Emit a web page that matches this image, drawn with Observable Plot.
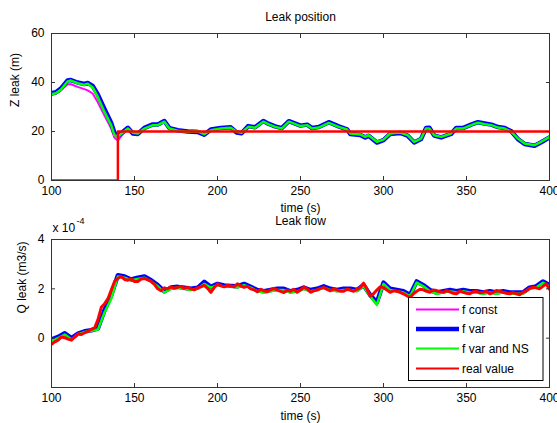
<!DOCTYPE html>
<html>
<head>
<meta charset="utf-8">
<script src="https://cdn.jsdelivr.net/npm/d3@7"></script>
<script src="https://cdn.jsdelivr.net/npm/@observablehq/plot@0.6"></script>
<style>
  body { margin: 0; background: #fff; }
  #wrap { position: relative; width: 557px; height: 423px; font-family: "Liberation Sans", Arial, sans-serif; }
  #wrap svg { display: block; }
  #legend { position: absolute; left: 0; top: 0; }
</style>
</head>
<body>
<div id="wrap"></div>
<script>
// ---------- Data ----------
// Leak position (Z leak, m)
const zTime = [100,102.6,105.6,109.7,111.7,115.7,119.8,121.8,124.8,127.8,131.9,135.9,137.9,139.9,142.9,146,149,152,156,161,164,168,171,176,182,188,192,196,202,208,211.5,214.5,218.5,222.6,227.6,230.6,234.7,238.7,243,250,254,257,261,267,273,278,280,286,289,291,296,300,304,310,314.5,318.5,322.6,325.6,327.6,330.6,334.7,340.7,343.8,347.8,352.8,356.9,361,365,369,373,377,381,385,391,395,400];
const zConst = [35.0,35.3,36.7,39.3,39.3,38.2,37.3,36.8,35.5,32,26.5,21.3,17.5,16.3,18.8,21.0,19.6,19.3,21.2,22.5,22.6,23.9,21.1,20.6,20.4,20.3,19.1,20.7,21.3,21.6,20.0,19.7,22.0,21.5,24.2,23.1,22.0,21.3,24.1,22.3,22.5,21.3,21.7,23.6,22.0,20.8,19.3,19.0,18.0,18.6,16.0,16.9,19.4,19.9,18.6,16.0,17.2,21.5,21.3,18.6,18.0,19.3,21.2,21.3,22.7,24.0,23.2,22.7,21.7,21.3,20.0,17.3,15.3,14.6,15.9,17.9];
const zVar = [35.6,36.0,37.5,40.8,41.0,40.0,39.4,39.8,38.6,35.2,29.2,23.6,19.5,18.3,19.8,21.5,19.2,19.0,21.5,22.9,22.9,24.3,21.4,20.5,20.0,19.8,18.7,20.8,21.4,21.7,19.6,19.3,22.2,21.7,24.3,23.2,22.1,21.4,24.2,22.4,22.8,21.4,21.8,23.8,22.1,20.9,19.0,18.6,17.6,18.3,15.5,16.5,19.0,19.4,18.3,15.5,16.9,21.4,21.5,18.3,17.6,19.0,21.4,21.4,22.8,23.8,23.3,22.8,21.8,21.4,20.1,16.9,14.9,14.2,15.6,17.6];
const zVarNS = [35.2,35.6,37,40.4,40.8,39.7,39,39.5,38,34.2,28,22.6,18.5,18,19.5,21.2,19.5,19.2,21.2,22.6,22.6,24,21.2,20.3,19.9,20.1,18.9,20.5,21.2,21.5,19.9,19.5,21.9,21.5,24,23,21.9,21.2,24,22.2,22.6,21.2,21.6,23.5,21.9,20.8,19.2,18.8,17.8,18.5,15.8,16.7,19.2,19.6,18.5,15.8,17.1,21.2,21.2,18.5,17.8,19.2,21.2,21.2,22.6,23.6,23,22.6,21.6,21.2,19.9,17.1,15.1,14.4,15.8,17.8];
const zRealTime = [100,140,140,400];
const zReal = [0,0,20,20];

// Leak flow (Q leak, in units of 1e-4 m3/s)
const qTimeEst = d3.range(100, 401, 4);
const qConst = [-0.05,0.05,0.18,0.0,0.18,0.28,0.32,0.42,1.15,1.75,2.55,2.5,2.38,2.45,2.5,2.35,2.15,1.9,2.05,2.08,2.04,2.0,2.04,2.28,2.08,2.2,2.14,2.12,2.1,2.2,2.08,1.95,1.9,1.95,2.0,2.0,1.9,1.95,2.05,1.95,2.0,2.1,2.0,1.95,2.0,2.0,1.95,2.15,1.75,1.45,2.25,2.0,1.95,1.9,1.75,2.3,2.15,1.95,1.85,1.9,1.95,1.9,1.95,1.9,1.9,1.85,1.9,1.85,1.9,1.85,1.85,1.85,2.05,2.1,2.3,2.15];
const qVar = [-0.05,0.05,0.2,0.0,0.18,0.28,0.32,0.4,1.15,1.75,2.55,2.5,2.38,2.45,2.5,2.35,2.15,1.9,2.05,2.08,2.04,2.0,2.04,2.28,2.08,2.2,2.14,2.12,2.1,2.2,2.08,1.95,1.9,1.95,2.0,2.0,1.9,1.95,2.05,1.95,2.0,2.1,2.0,1.95,2.0,2.0,1.95,2.15,1.75,1.45,2.25,2.0,1.95,1.9,1.75,2.3,2.15,1.95,1.85,1.9,1.95,1.9,1.95,1.9,1.9,1.85,1.9,1.85,1.9,1.85,1.85,1.85,2.05,2.1,2.3,2.15];
const qVarNS = [-0.1,0.0,0.15,-0.05,0.15,0.25,0.3,0.35,1.05,1.6,2.5,2.45,2.35,2.4,2.45,2.3,2.1,1.85,2.0,2.05,2.0,1.95,2.0,2.2,2.05,2.15,2.1,2.1,2.05,2.15,2.05,1.9,1.85,1.9,1.95,1.95,1.85,1.9,2.0,1.9,1.95,2.05,1.95,1.9,1.95,1.95,1.9,2.1,1.7,1.35,2.2,1.95,1.9,1.85,1.7,2.25,2.1,1.9,1.8,1.85,1.9,1.85,1.9,1.85,1.85,1.8,1.85,1.8,1.85,1.8,1.8,1.8,2.0,2.05,2.25,2.1];
const qTimeReal = d3.range(100, 401, 2);
const qReal = [-0.25,-0.15,-0.08,0.05,0.02,-0.04,-0.08,0.05,0.18,0.15,0.22,0.28,0.36,0.42,0.75,1.25,1.4,1.6,1.95,2.3,
  2.42,2.5,2.38,2.35,2.4,2.3,2.3,2.4,2.42,2.36,2.3,2.18,2.0,1.92,2.04,2.0,2.08,2.02,2.06,2.1,
  2.02,2.06,2.0,1.96,2.04,2.08,2.14,2.02,1.86,2.05,2.2,2.12,2.08,2.14,2.12,2.08,2.2,2.12,2.06,2.1,
  2.0,1.96,1.88,1.98,1.92,1.88,1.96,2.02,1.95,1.9,1.85,1.95,1.9,1.98,1.86,1.95,2.07,2.0,1.86,1.92,
  1.95,2.02,2.05,1.98,1.92,2.0,1.96,1.9,1.9,1.98,1.95,1.9,1.98,2.05,2.23,2.0,1.7,1.8,1.95,2.08,
  2.05,1.95,1.86,1.92,1.9,1.86,1.8,1.72,1.65,1.8,1.9,1.98,1.96,1.9,1.86,1.95,1.93,1.88,1.86,1.92,
  1.88,1.82,1.8,1.9,1.86,1.82,1.8,1.88,1.9,1.84,1.86,1.9,1.8,1.85,1.93,1.9,1.86,1.82,1.8,1.85,
  1.8,1.76,1.86,1.92,2.02,2.06,2.04,2.0,2.1,2.2,1.98];

const xTicks = [100,150,200,250,300,350,400];
const zTicks = [0,20,40,60];
const qTicks = [0,2,4];

const seriesNames = ["f const","f var","f var and NS","real value"];
const seriesColors = ["#ff00ff","#0000ff","#00ff00","#ff0000"];
const seriesWidths = [2,4.5,2.5,2.5];

// ---------- Helpers ----------
const font = '"Liberation Sans", Arial, sans-serif';
const toRows = (xs, ys) => xs.map((x, i) => ({x, y: ys[i]}));
function lineMark(xs, ys, i, w) {
  return Plot.line(toRows(xs, ys), {x: "x", y: "y", stroke: seriesColors[i], strokeWidth: w ?? seriesWidths[i], strokeLinejoin: "round", clip: true});
}
function axesMarks(yTicks) {
  return [
    Plot.axisX(xTicks, {anchor: "bottom", tickSize: -4, tickPadding: 10, label: null, stroke: "#333", fill: "#000"}),
    Plot.axisX(xTicks, {anchor: "top", tickSize: -4, tickFormat: () => "", label: null, stroke: "#333"}),
    Plot.axisY(yTicks, {anchor: "left", tickSize: -4, tickPadding: 11, label: null, stroke: "#333", fill: "#000"}),
    Plot.axisY(yTicks, {anchor: "right", tickSize: -4, tickFormat: () => "", label: null, stroke: "#333"}),
    Plot.frame({stroke: "#333", strokeWidth: 1})
  ];
}
const label = (s, opts) => Plot.text([s], {lineAnchor: "middle", fontSize: 12, ...opts});

const wrap = document.getElementById("wrap");

// ---------- Top: Leak position ----------
const topChart = Plot.plot({
  width: 557, height: 212,
  marginLeft: 51, marginRight: 8, marginTop: 33, marginBottom: 32,
  style: {fontFamily: font, fontSize: "12px", background: "#fff", color: "#000", overflow: "visible"},
  x: {domain: [100, 400]},
  y: {domain: [0, 60]},
  marks: [
    lineMark(zTime, zConst, 0),
    lineMark(zTime, zVar, 1),
    lineMark(zTime, zVarNS, 2),
    lineMark(zRealTime, zReal, 3),
    ...axesMarks(zTicks),
    label("Leak position", {frameAnchor: "top", dy: -16}),
    label("time (s)", {frameAnchor: "bottom", dy: 28}),
    label("Z leak (m)", {frameAnchor: "left", dx: -36, rotate: -90})
  ]
});
wrap.appendChild(topChart);

// ---------- Bottom: Leak flow ----------
const bottomChart = Plot.plot({
  width: 557, height: 211,
  marginLeft: 51, marginRight: 8, marginTop: 27, marginBottom: 36,
  style: {fontFamily: font, fontSize: "12px", background: "#fff", color: "#000", overflow: "visible"},
  x: {domain: [100, 400]},
  y: {domain: [-2, 4]},
  marks: [
    lineMark(qTimeEst, qConst, 0),
    lineMark(qTimeEst, qVar, 1),
    lineMark(qTimeEst, qVarNS, 2),
    lineMark(qTimeReal, qReal, 3, 3),
    ...axesMarks(qTicks),
    label("Leak flow", {frameAnchor: "top", dy: -18}),
    label("time (s)", {frameAnchor: "bottom", dy: 29}),
    label("Q leak (m3/s)", {frameAnchor: "left", dx: -29, rotate: -90}),
    label("x 10", {frameAnchor: "top-left", textAnchor: "start", dx: 1, dy: -11.5}),
    label("-4", {frameAnchor: "top-left", textAnchor: "start", dx: 25, dy: -18.5, fontSize: 9})
  ]
});
wrap.appendChild(bottomChart);

// ---------- Legend (inside the lower axes) ----------
const lg = d3.select(wrap).append("svg")
  .attr("id", "legend")
  .attr("width", 557).attr("height", 423)
  .style("pointer-events", "none");
lg.append("rect")
  .attr("x", 408.5).attr("y", 297.5).attr("width", 134.5).attr("height", 83)
  .attr("fill", "#fff").attr("stroke", "#000").attr("stroke-width", 1);
const rowsY = [309.5, 329, 348.5, 368.5];
seriesNames.forEach((name, i) => {
  lg.append("line")
    .attr("x1", 416).attr("x2", 459).attr("y1", rowsY[i]).attr("y2", rowsY[i])
    .attr("stroke", seriesColors[i]).attr("stroke-width", i === 1 ? 4.5 : 2);
  lg.append("text")
    .attr("x", 462).attr("y", rowsY[i]).attr("dy", "0.35em")
    .attr("font-family", font).attr("font-size", 12).attr("fill", "#000")
    .text(name);
});
</script>
</body>
</html>
